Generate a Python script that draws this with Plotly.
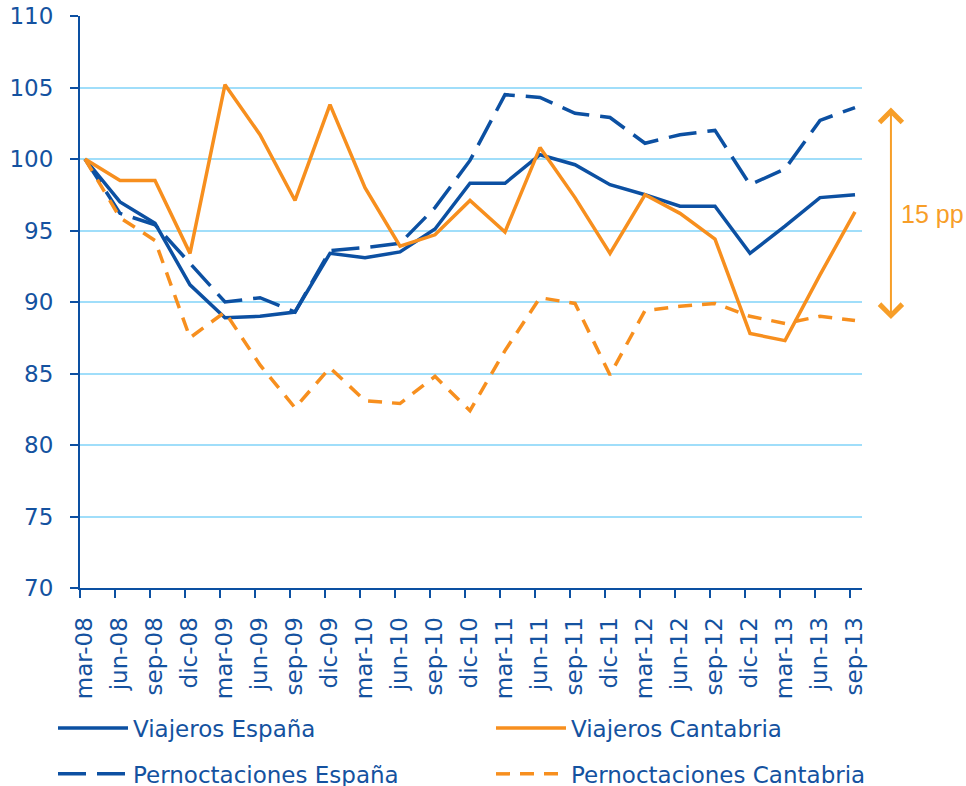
import plotly.graph_objects as go

categories = ["mar-08", "jun-08", "sep-08", "dic-08", "mar-09", "jun-09", "sep-09", "dic-09",
              "mar-10", "jun-10", "sep-10", "dic-10", "mar-11", "jun-11", "sep-11", "dic-11",
              "mar-12", "jun-12", "sep-12", "dic-12", "mar-13", "jun-13", "sep-13"]

viajeros_espana = [100, 97.0, 95.5, 91.2, 88.9, 89.0, 89.3, 93.4, 93.1, 93.5, 95.1, 98.3, 98.3,
                   100.3, 99.6, 98.2, 97.5, 96.7, 96.7, 93.4, 95.3, 97.3, 97.5]
viajeros_cantabria = [100, 98.5, 98.5, 93.4, 105.2, 101.7, 97.1, 103.8, 98.0, 93.9, 94.7, 97.1, 94.9,
                      100.8, 97.3, 93.4, 97.5, 96.2, 94.4, 87.8, 87.3, 91.9, 96.3]
pernoct_espana = [100, 96.2, 95.4, 92.7, 90.0, 90.3, 89.3, 93.6, 93.8, 94.1, 96.6, 99.9, 104.5,
                  104.3, 103.2, 102.9, 101.1, 101.7, 102.0, 98.2, 99.3, 102.7, 103.6]
pernoct_cantabria = [100, 95.9, 94.3, 87.5, 89.3, 85.6, 82.6, 85.4, 83.1, 82.9, 84.8, 82.4, 86.6,
                     90.3, 89.9, 84.9, 89.4, 89.7, 89.9, 89.0, 88.5, 89.0, 88.7]

gap_label = "15 pp"

BLUE = "rgb(12,80,162)"
ORANGE = "rgb(247,143,30)"
ORANGE_ANN = "rgb(247,158,40)"
GRID = "rgb(160,222,250)"
TEXT = "rgb(20,82,160)"
FONT = "DejaVu Sans"
FS = 23

x = list(range(len(categories)))

fig = go.Figure()
fig.add_trace(go.Scatter(x=x, y=viajeros_espana, mode="lines", name="Viajeros España",
                         line=dict(color=BLUE, width=3.5), legend="legend", legendgroup="a"))
fig.add_trace(go.Scatter(x=x, y=pernoct_espana, mode="lines", name="Pernoctaciones España",
                         line=dict(color=BLUE, width=3.5, dash="28px,11px"), legend="legend",
                         legendgroup="b"))
fig.add_trace(go.Scatter(x=x, y=viajeros_cantabria, mode="lines", name="Viajeros Cantabria",
                         line=dict(color=ORANGE, width=3.5), legend="legend2", legendgroup="c"))
fig.add_trace(go.Scatter(x=x, y=pernoct_cantabria, mode="lines", name="Pernoctaciones Cantabria",
                         line=dict(color=ORANGE, width=3.5, dash="14px,10px"), legend="legend2",
                         legendgroup="d"))

# double arrow showing the gap at the last period
arrow_x = 1.037
fig.add_annotation(xref="paper", yref="y", x=arrow_x, y=pernoct_espana[-1],
                   ax=0, ay=pernoct_cantabria[-1], axref="pixel", ayref="y",
                   showarrow=True, arrowhead=4, startarrowhead=4, arrowside="end+start",
                   arrowwidth=2, arrowsize=2.2, startarrowsize=2.2, arrowcolor=ORANGE_ANN, text="")
fig.add_annotation(xref="paper", yref="y", x=1.047,
                   y=(pernoct_espana[-1] + pernoct_cantabria[-1]) / 2,
                   text=gap_label, showarrow=False, xanchor="left",
                   font=dict(family="Liberation Sans", size=25, color=ORANGE_ANN))

off = 5 / 35.0
fig.update_xaxes(range=[-off, 22.2], tickmode="array", tickvals=x, ticktext=categories,
                 tickangle=-90, ticks="", showgrid=False, zeroline=False,
                 showline=True, linecolor=BLUE, linewidth=2,
                 tickfont=dict(family=FONT, size=FS, color=TEXT), ticklabelstandoff=18,
                 minor=dict(tickmode="array", tickvals=[i - off for i in x], ticks="outside",
                            ticklen=8, tickwidth=2, tickcolor=BLUE, showgrid=False))
fig.update_yaxes(range=[70, 110], dtick=5, tick0=70, showgrid=True, gridcolor=GRID, gridwidth=2,
                 zeroline=False, showline=True, linecolor=BLUE, linewidth=2,
                 ticks="outside", ticklen=8, tickwidth=2, tickcolor=BLUE,
                 tickfont=dict(family=FONT, size=FS, color=TEXT), ticklabelstandoff=12)

legend_common = dict(orientation="v", xref="container", yref="container", xanchor="left",
                     yanchor="middle", font=dict(family=FONT, size=FS, color=TEXT),
                     itemwidth=70, tracegroupgap=13, bgcolor="rgba(0,0,0,0)",
                     traceorder="grouped")
fig.update_layout(
    width=966, height=786,
    margin=dict(l=80, r=104, t=16, b=198, autoexpand=False),
    paper_bgcolor="white", plot_bgcolor="white",
    showlegend=True,
    legend=dict(x=53 / 966, y=1 - 751 / 786, **legend_common),
    legend2=dict(x=491 / 966, y=1 - 751 / 786, **legend_common),
)

fig.write_html("out.html", post_script="document.body.style.margin='0px';",
               config={"displayModeBar": False})
